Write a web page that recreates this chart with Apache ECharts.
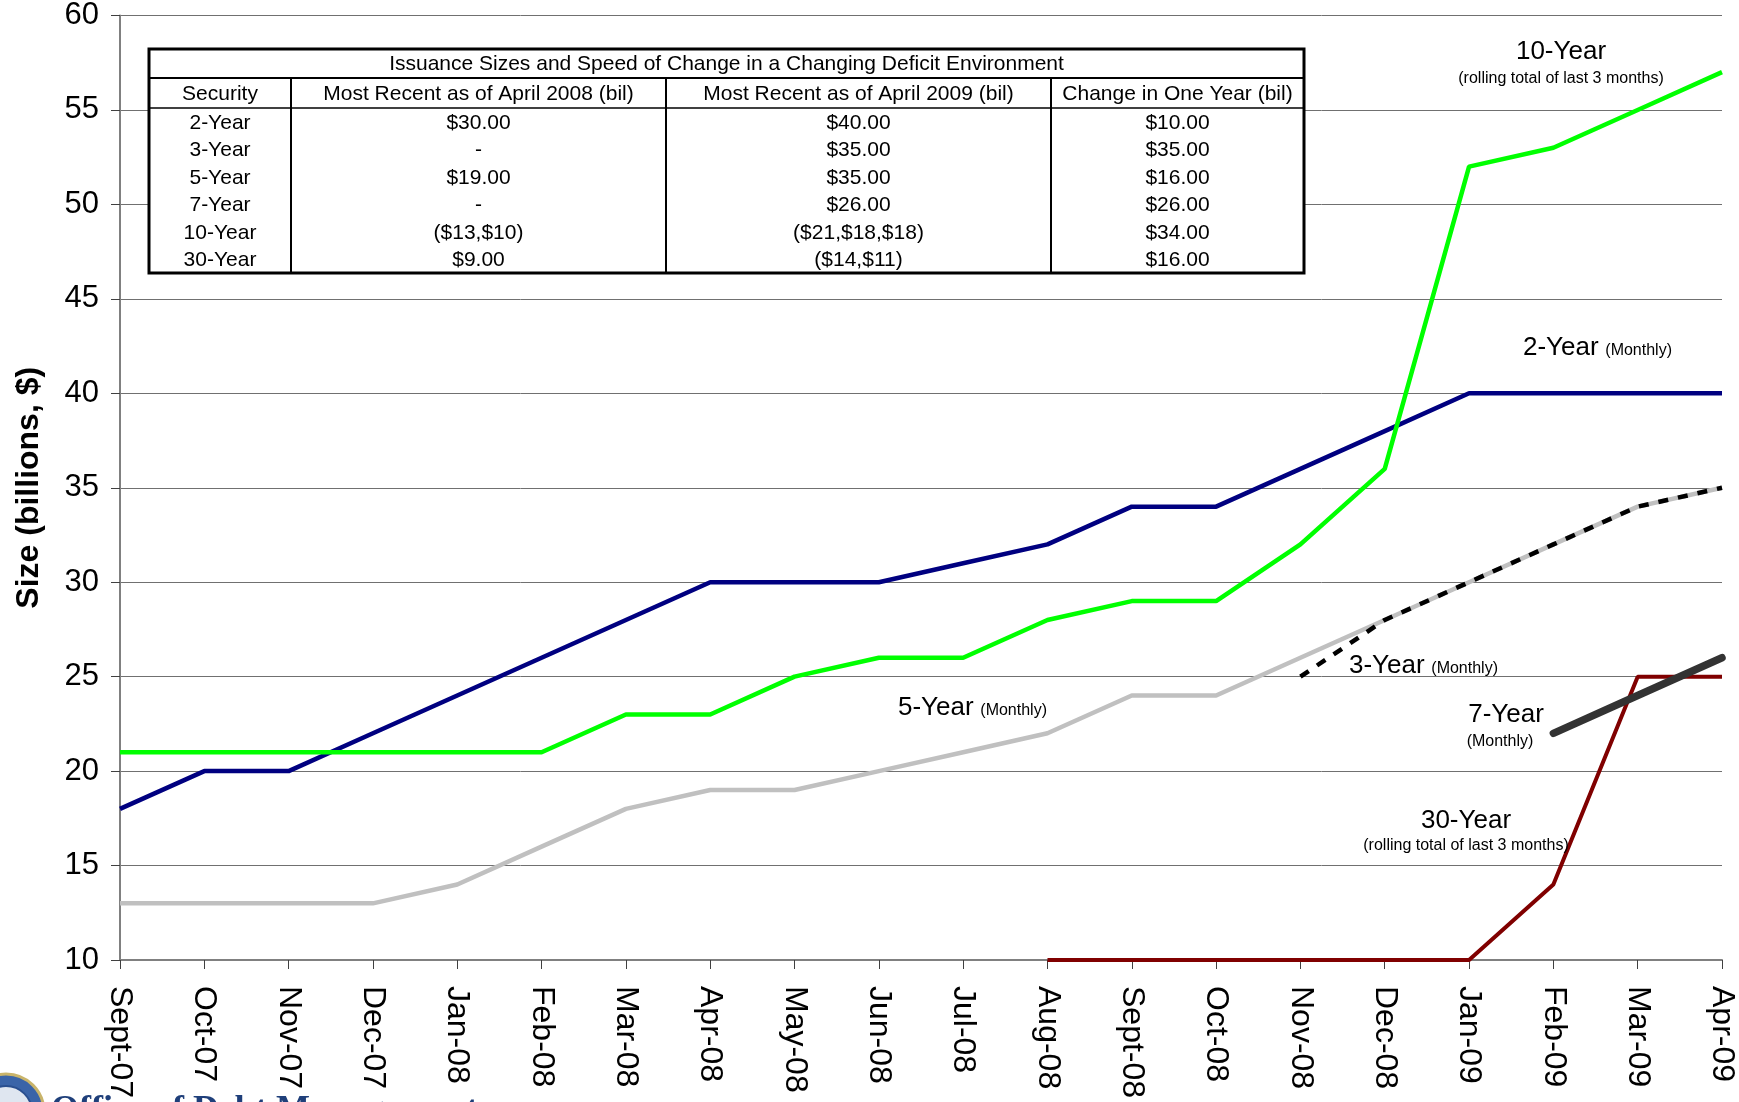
<!DOCTYPE html>
<html>
<head>
<meta charset="utf-8">
<script src="https://cdn.jsdelivr.net/npm/echarts@6/dist/echarts.min.js"></script>
<style>
  html, body { margin: 0; padding: 0; background: #fff; }
  #chart { width: 1739px; height: 1102px; }
</style>
</head>
<body>
<div id="chart"></div>
<script>
// months on the x axis
var months = ['Sept-07', 'Oct-07', 'Nov-07', 'Dec-07', 'Jan-08', 'Feb-08', 'Mar-08', 'Apr-08', 'May-08', 'Jun-08',
  'Jul-08', 'Aug-08', 'Sept-08', 'Oct-08', 'Nov-08', 'Dec-08', 'Jan-09', 'Feb-09', 'Mar-09', 'Apr-09'];

// issue sizes, billions
var twoYear = [18, 20, 20, 22, 24, 26, 28, 30, 30, 30, 31, 32, 34, 34, 36, 38, 40, 40, 40, 40];
var tenYear = [21, 21, 21, 21, 21, 21, 23, 23, 25, 26, 26, 28, 29, 29, 32, 36, 52, 53, 55, 57];
var fiveYear = [13, 13, 13, 13, 14, 16, 18, 19, 19, 20, 21, 22, 24, 24, 26, 28, 30, 32, 34, 35];
var threeYear = ['-', '-', '-', '-', '-', '-', '-', '-', '-', '-', '-', '-', '-', '-', 25, 28, 30, 32, 34, 35];
var sevenYear = ['-', '-', '-', '-', '-', '-', '-', '-', '-', '-', '-', '-', '-', '-', '-', '-', '-', 22, 24, 26];
var thirtyYear = ['-', '-', '-', '-', '-', '-', '-', '-', '-', '-', '-', 10, 10, 10, 10, 10, 10, 14, 25, 25];

// table in the top left
var tableTitle = 'Issuance Sizes and Speed of Change in a Changing Deficit Environment';
var tableHeader = ['Security', 'Most Recent as of April 2008 (bil)', 'Most Recent as of April 2009 (bil)', 'Change in One Year (bil)'];
var securities = ['2-Year', '3-Year', '5-Year', '7-Year', '10-Year', '30-Year'];
var recent2008 = ['$30.00', '-', '$19.00', '-', '($13,$10)', '$9.00'];
var recent2009 = ['$40.00', '$35.00', '$35.00', '$26.00', '($21,$18,$18)', '($14,$11)'];
var changeOneYear = ['$10.00', '$35.00', '$16.00', '$26.00', '$34.00', '$16.00'];

var font = 'Liberation Sans, Arial, sans-serif';

// table drawn as graphic elements
var colX = [149, 291, 666, 1051, 1304];
var tTop = 49, titleBottom = 78, headBottom = 108, rowH = 27.5;
var tBottom = headBottom + rowH * securities.length;
var tableFont = '21px ' + font;

var table = [];
table.push({ type: 'rect', shape: { x: colX[0], y: tTop, width: colX[4] - colX[0], height: tBottom - tTop },
  style: { fill: '#fff', stroke: '#000', lineWidth: 3 }, z: 100 });
table.push({ type: 'line', shape: { x1: colX[0], y1: titleBottom, x2: colX[4], y2: titleBottom },
  style: { stroke: '#000', lineWidth: 2 }, z: 101 });
table.push({ type: 'line', shape: { x1: colX[0], y1: headBottom, x2: colX[4], y2: headBottom },
  style: { stroke: '#000', lineWidth: 1.5 }, z: 101 });
for (var c = 1; c < 4; c++) {
  table.push({ type: 'line', shape: { x1: colX[c], y1: titleBottom, x2: colX[c], y2: tBottom },
    style: { stroke: '#000', lineWidth: 2 }, z: 101 });
}
table.push({ type: 'text', x: (colX[0] + colX[4]) / 2, y: (tTop + titleBottom) / 2 + 1,
  style: { text: tableTitle, font: tableFont, fill: '#000', align: 'center', verticalAlign: 'middle' }, z: 102 });
tableHeader.forEach(function (h, i) {
  table.push({ type: 'text', x: (colX[i] + colX[i + 1]) / 2, y: (titleBottom + headBottom) / 2 + 1,
    style: { text: h, font: tableFont, fill: '#000', align: 'center', verticalAlign: 'middle' }, z: 102 });
});
var cols = [securities, recent2008, recent2009, changeOneYear];
cols.forEach(function (col, i) {
  col.forEach(function (v, r) {
    table.push({ type: 'text', x: (colX[i] + colX[i + 1]) / 2, y: headBottom + rowH * r + rowH / 2 + 1,
      style: { text: v, font: tableFont, fill: '#000', align: 'center', verticalAlign: 'middle' }, z: 102 });
  });
});

// series labels
function label(x, y, text, size, align) {
  return { type: 'text', x: x, y: y, z: 90,
    style: { text: text, font: size + 'px ' + font, fill: '#000', align: align || 'center', verticalAlign: 'middle' } };
}
function richLabel(x, y, big, small) {
  return { type: 'text', x: x, y: y, z: 90,
    style: { text: '{a|' + big + '}  {b|' + small + '}', align: 'left', verticalAlign: 'middle',
      rich: { a: { fontSize: 26, fontFamily: font, fill: '#000' }, b: { fontSize: 16, fontFamily: font, fill: '#000', padding: [6, 0, 0, 0] } } } };
}
var notes = [
  label(1561, 52, '10-Year', 26),
  label(1561, 79, '(rolling total of last 3 months)', 16),
  richLabel(1523, 348, '2-Year', '(Monthly)'),
  richLabel(898, 708, '5-Year', '(Monthly)'),
  richLabel(1349, 666, '3-Year', '(Monthly)'),
  label(1506, 715, '7-Year', 26),
  label(1500, 742, '(Monthly)', 16),
  label(1466, 821, '30-Year', 26),
  label(1466, 846, '(rolling total of last 3 months)', 16)
];

// seal + heading at the very bottom, cut by the page edge
var footer = [
  { type: 'circle', shape: { cx: 6, cy: 1112, r: 38 }, style: { fill: '#3a64a8', stroke: '#c9b46a', lineWidth: 3 }, z: 80 },
  { type: 'circle', shape: { cx: 6, cy: 1112, r: 26 }, style: { fill: '#dfe6f0', stroke: '#2a4f8f', lineWidth: 2 }, z: 81 },
  { type: 'text', x: 51, y: 1093, z: 80,
    style: { text: 'Office of Debt Management', font: 'bold 36px Liberation Serif, serif', fill: '#1f3f7a', verticalAlign: 'top' } }
];

var chart = echarts.init(document.getElementById('chart'));
var option = {
  animation: false,
  backgroundColor: '#fff',
  grid: { left: 120, right: 17, top: 15, bottom: 142, containLabel: false },
  xAxis: {
    type: 'category',
    data: months,
    boundaryGap: false,
    axisLine: { lineStyle: { color: '#808080', width: 2 } },
    axisTick: { show: true, length: 9, alignWithLabel: true, lineStyle: { color: '#404040', width: 1 } },
    axisLabel: { rotate: -90, margin: 26, fontSize: 32, fontFamily: font, color: '#000', interval: 0 },
    splitLine: { show: false }
  },
  yAxis: {
    type: 'value',
    min: 10, max: 60, interval: 5,
    name: 'Size (billions, $)',
    nameLocation: 'middle',
    nameGap: 75,
    nameTextStyle: { fontSize: 32, fontWeight: 'bold', fontFamily: font, color: '#000' },
    axisLine: { show: true, lineStyle: { color: '#808080', width: 2 } },
    axisTick: { show: true, length: 9, lineStyle: { color: '#404040' } },
    axisLabel: { margin: 21, fontSize: 31, fontFamily: font, color: '#000' },
    splitLine: { lineStyle: { color: '#707070', width: 1 } }
  },
  series: [
    { name: '5-Year', type: 'line', data: fiveYear, symbol: 'none', z: 2,
      lineStyle: { color: '#c0c0c0', width: 4.5 } },
    { name: '3-Year', type: 'line', data: threeYear, symbol: 'none', z: 3,
      lineStyle: { color: '#000', width: 4.5, type: [10, 10] } },
    { name: '2-Year', type: 'line', data: twoYear, symbol: 'none', z: 4,
      lineStyle: { color: '#000080', width: 4.5 } },
    { name: '10-Year', type: 'line', data: tenYear, symbol: 'none', z: 5,
      lineStyle: { color: '#00ff00', width: 4.5 } },
    { name: '30-Year', type: 'line', data: thirtyYear, symbol: 'none', z: 6,
      lineStyle: { color: '#800000', width: 4 } },
    { name: '7-Year', type: 'line', data: sevenYear, symbol: 'none', z: 7,
      lineStyle: { color: '#333333', width: 7.5, cap: 'round' } }
  ],
  graphic: table.concat(notes, footer)
};
option && chart.setOption(option);
</script>
</body>
</html>
